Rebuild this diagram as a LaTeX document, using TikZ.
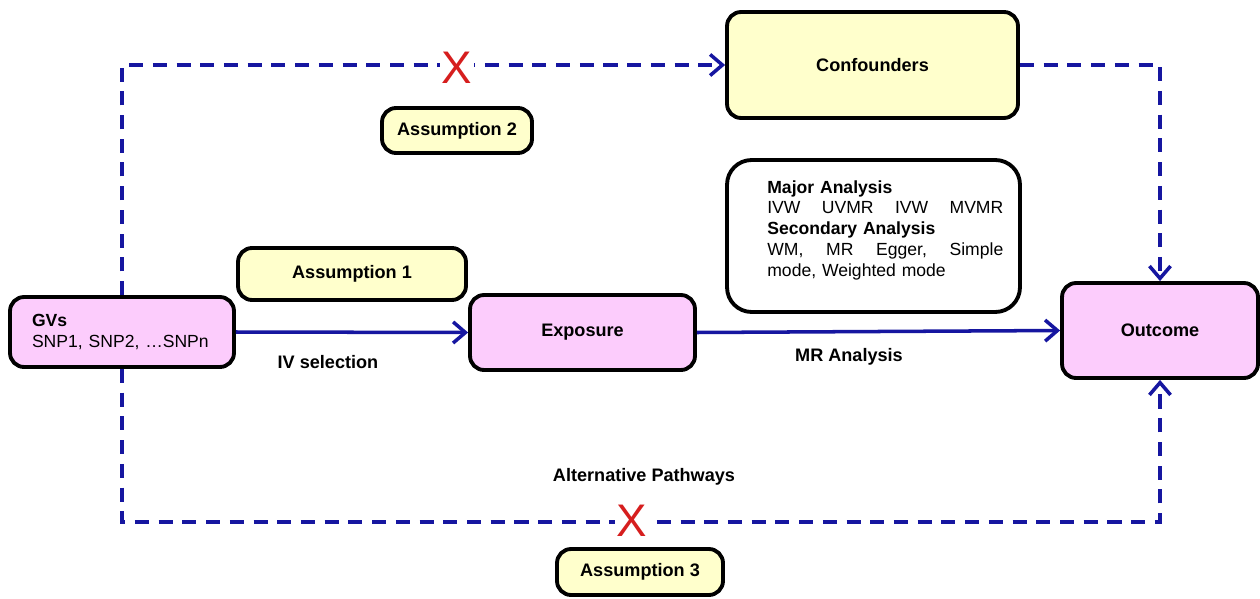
\documentclass[tikz,border=0pt]{standalone}
\usepackage{fontspec}
\setmainfont{Liberation Sans}
\usetikzlibrary{arrows.meta}
\definecolor{pinkfill}{RGB}{252,204,252}
\definecolor{yellfill}{RGB}{255,255,204}
\definecolor{linkblue}{RGB}{22,22,160}
\definecolor{xred}{RGB}{214,30,30}
\begin{document}
\begin{tikzpicture}[x=0.02cm,y=-0.02cm,
  box/.style={draw=black, line width=2.2pt, rounded corners=8pt, font=\bfseries\fontsize{10.3}{12}\selectfont},
  pinkbox/.style={box, fill=pinkfill},
  yelbox/.style={box, fill=yellfill},
  lbl/.style={font=\bfseries\fontsize{10.3}{12}\selectfont, inner sep=1pt},
  link/.style={draw=linkblue, line width=2pt, -{Straight Barb[length=7pt,width=12pt]}},
  dlink/.style={link, dash pattern=on 8pt off 5.5pt},
  xmark/.style={text=xred, font=\fontsize{26}{26}\selectfont, fill=white, inner sep=1pt}
]
\useasboundingbox (0,0) rectangle (1260,598);

% boxes
\node[pinkbox, minimum width=4.48cm, minimum height=1.4cm, align=left, text width=3.6cm, inner xsep=0.44cm, font=\fontsize{10}{11.5}\selectfont] (gv) at (122,332) {\textbf{GVs}\\SNP1, SNP2, …SNPn};
\node[pinkbox, minimum width=4.5cm, minimum height=1.5cm] (exp) at (582.5,332.5) {Exposure};
\node[pinkbox, minimum width=3.92cm, minimum height=1.9cm] (out) at (1160,330.5) {Outcome};
\node[yelbox, minimum width=5.82cm, minimum height=2.12cm] (conf) at (872.5,65) {Confounders};
\node[yelbox, minimum width=3.0cm, minimum height=0.9cm] (as2) at (457,130.5) {Assumption 2};
\node[yelbox, minimum width=4.56cm, minimum height=1.04cm] (as1) at (352,274) {Assumption 1};
\node[yelbox, minimum width=3.32cm, minimum height=0.92cm] (as3) at (640,572) {Assumption 3};
\node[box, fill=white, rounded corners=14pt, minimum width=5.86cm, minimum height=3.04cm] (anabox) at (873.5,236) {};
\node[anchor=north west, inner sep=0pt, text width=4.72cm, align=left, font=\fontsize{10}{11.8}\selectfont] (ana) at (767,180)
  {\textbf{Major Analysis}\\
   \makebox[4.72cm][s]{IVW\hfill UVMR\hfill IVW\hfill MVMR}\\
   \textbf{Secondary Analysis}\\
   \makebox[4.72cm][s]{WM,\hfill MR\hfill Egger,\hfill Simple}\\
   mode, Weighted mode};

% connectors
\coordinate (bc) at (1160,522);
\draw[dlink] (gv.north) |- (conf.west);
\draw[dlink] (conf.east) -| (out.north);
\draw[dlink] (gv.south) |- (bc) -- (out.south);
\draw[link] (gv.east) -- (exp.west);
\draw[link] (exp.east) -- (out.west);

% X marks
\node[xmark] (xtop) at (457,68) {X};
\node[xmark] (xbot) at (632,521) {X};

% labels
\node[lbl] (ivsel) at (328,362) {IV selection};
\node[lbl] (mran) at (849,357) {MR Analysis};
\node[lbl] (alt) at (644,477) {Alternative Pathways};
\end{tikzpicture}
\end{document}
